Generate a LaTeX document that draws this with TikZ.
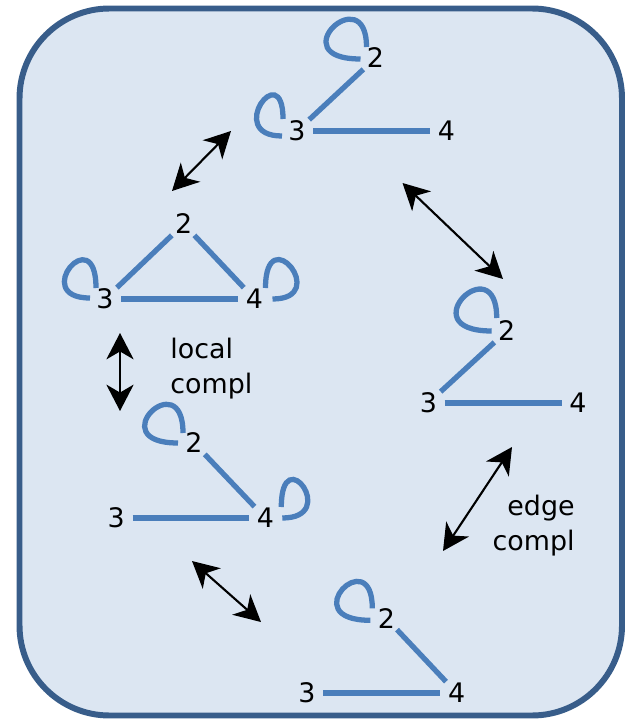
\documentclass[tikz,border=0pt]{standalone}
\usepackage{fontspec}
\setmainfont{DejaVu Sans}
\usetikzlibrary{arrows.meta}
\definecolor{fillblue}{HTML}{DCE6F2}
\definecolor{borderblue}{HTML}{385D8A}
\definecolor{edgeblue}{HTML}{4A7EBB}
\begin{document}
\begin{tikzpicture}[x=0.02cm,y=0.02cm,
  lbl/.style={font=\fontsize{15.3}{18}\selectfont, minimum width=0.64cm, minimum height=0.44cm, inner sep=0pt},
  gedge/.style={draw=edgeblue, line width=3pt},
  arr/.style={draw=black, line width=1.2pt, {Stealth[length=15pt,width=15.5pt,inset=4.5pt]}-{Stealth[length=15pt,width=15.5pt,inset=4.5pt]}},
  txt/.style={font=\fontsize{15.3}{19.8}\selectfont, inner sep=0pt},
  frame/.style={draw=borderblue, fill=fillblue, line width=3.4pt, rounded corners=1.8cm}]
\useasboundingbox (0,0) rectangle (628,-719);
\draw[frame] (19.5,-8.5) rectangle (622,-715.5);

% graph 1 (top)
\node[lbl] (g1b) at (375.5,-58) {2};
\node[lbl] (g1c) at (297,-131) {3};
\node[lbl] (g1d) at (446.5,-131) {4};
\draw[gedge] (g1c) -- (g1b);
\draw[gedge] (g1c) -- (g1d);
\draw[gedge] ([shift={(-9,11)}]g1b.center) .. controls +(90:69) and +(180:81) .. ([shift={(-15,-1)}]g1b.center);
\draw[gedge] ([shift={(-14,12)}]g1c.center) .. controls +(90:63) and +(180:58) .. ([shift={(-15,-5)}]g1c.center);

% graph 2 (triangle)
\node[lbl] (g2b) at (183.7,-224) {2};
\node[lbl] (g2c) at (105,-299) {3};
\node[lbl] (g2d) at (254.5,-299) {4};
\draw[gedge] (g2c) -- (g2b);
\draw[gedge] (g2b) -- (g2d);
\draw[gedge] (g2c) -- (g2d);
\draw[gedge] ([shift={(-9,11)}]g2c.center) .. controls +(90:69) and +(180:61) .. ([shift={(-15,1)}]g2c.center);
\draw[gedge] ([shift={(11,11)}]g2d.center) .. controls +(90:70) and +(0:59) .. ([shift={(18,0)}]g2d.center);

% graph 3 (right)
\node[lbl] (g3b) at (506.7,-331) {2};
\node[lbl] (g3c) at (428.3,-403) {3};
\node[lbl] (g3d) at (578,-403) {4};
\draw[gedge] (g3c) -- (g3b);
\draw[gedge] (g3c) -- (g3d);
\draw[gedge] ([shift={(-10,13)}]g3b.center) .. controls +(90:72) and +(180:83) .. ([shift={(-15,0)}]g3b.center);

% graph 4 (bottom left)
\node[lbl] (g4b) at (194,-443) {2};
\node[lbl] (g4c) at (116.2,-518) {3};
\node[lbl] (g4d) at (265.3,-518) {4};
\draw[gedge] (g4b) -- (g4d);
\draw[gedge] (g4c) -- (g4d);
\draw[gedge] ([shift={(-11,10)}]g4b.center) .. controls +(90:70) and +(180:78) .. ([shift={(-16,0)}]g4b.center);
\draw[gedge] ([shift={(16,11)}]g4d.center) .. controls +(90:68) and +(0:58) .. ([shift={(17,0)}]g4d.center);

% graph 5 (bottom)
\node[lbl] (g5b) at (386.3,-618.3) {2};
\node[lbl] (g5c) at (307,-693) {3};
\node[lbl] (g5d) at (456.7,-693) {4};
\draw[gedge] (g5b) -- (g5d);
\draw[gedge] (g5c) -- (g5d);
\draw[gedge] ([shift={(-14,10)}]g5b.center) .. controls +(90:67) and +(180:77) .. ([shift={(-16,-2)}]g5b.center);

% arrows
\coordinate (a1s) at (172,-191); \coordinate (a1e) at (231,-131);
\coordinate (a2s) at (402.5,-183); \coordinate (a2e) at (503,-279);
\coordinate (a3s) at (120,-333); \coordinate (a3e) at (120,-411);
\coordinate (a4s) at (512,-447); \coordinate (a4e) at (443,-551);
\coordinate (a5s) at (192,-561); \coordinate (a5e) at (261,-622);
\draw[arr] (a1s) -- (a1e);
\draw[arr] (a2s) -- (a2e);
\draw[arr] (a3s) -- (a3e);
\draw[arr] (a4s) -- (a4e);
\draw[arr] (a5s) -- (a5e);

% texts
\node[txt, align=left, anchor=base west] (lc) at (170,-393) {local\\compl};
\node[txt, align=right, anchor=base east] (ec) at (575,-550) {edge\\compl};
\end{tikzpicture}
\end{document}
